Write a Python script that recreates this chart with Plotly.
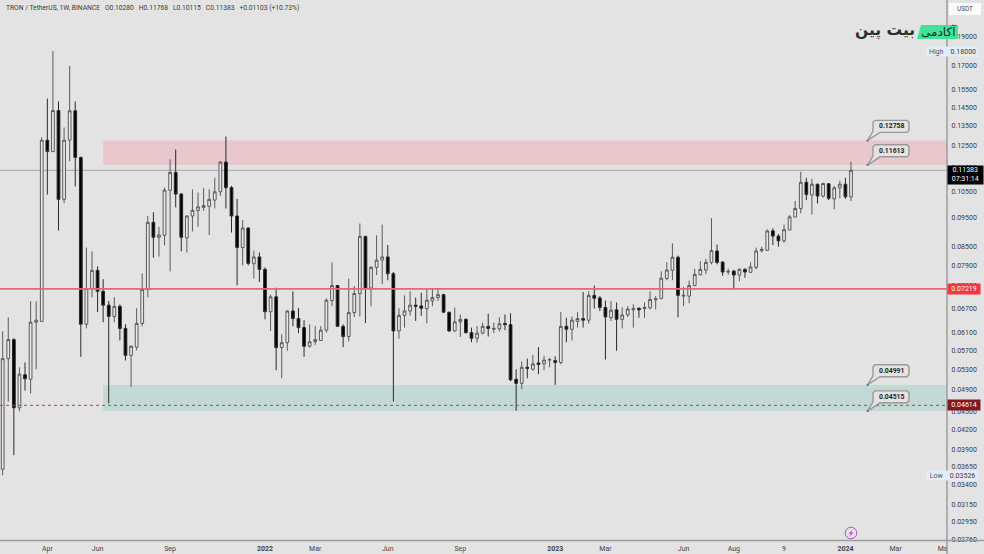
import math
import pandas as pd
import plotly.graph_objects as go

first_week = "2021-02-08"
opens = [.0361,.0552,.0594,.0457,.0519,.0510,.0635,.0637,.1278,.1223,.1432,.1018,.1278,.1431,.1196,.0630,.0723,.0775,.0715,.0678,
.0649,.0675,.0620,.0559,.0577,.0632,.0720,.0932,.0880,.0887,.1054,.1129,.1039,.0878,.0955,.0975,.0987,.0991,.1015,.1048,
.1175,.1065,.0955,.0846,.0912,.0795,.0816,.0778,.0661,.0700,.0576,.0587,.0663,.0644,.0622,.0579,.0589,.0592,.0616,.0690,
.0731,.0625,.0601,.0659,.0709,.0883,.0724,.0784,.0806,.0816,.0765,.0614,.0652,.0663,.0678,.0676,.0669,.0689,.0698,.0706,
.0660,.0614,.0636,.0642,.0610,.0597,.0609,.0625,.0618,.0619,.0632,.0629,.0510,.0502,.0534,.0530,.0543,.0541,.0549,.0548,
.0544,.0625,.0618,.0637,.0644,.0640,.0704,.0697,.0672,.0646,.0666,.0642,.0653,.0666,.0670,.0669,.0671,.0692,.0696,.0751,
.0775,.0815,.0702,.0702,.0731,.0762,.0776,.0799,.0835,.0800,.0770,.0773,.0761,.0778,.0769,.0784,.0836,.0837,.0902,.0884,
.0868,.0905,.0951,.0983,.1087,.1035,.1079,.1031,.1081,.1020,.1064,.1079,.1028]
highs = [.0613,.0647,.0597,.0534,.0544,.0688,.0688,.1292,.1500,.1800,.1483,.1342,.1700,.1483,.1200,.0846,.0834,.0787,.0749,.0689,
.0699,.0680,.0630,.0581,.0670,.0766,.0955,.0969,.0916,.1065,.1187,.1233,.1042,.0958,.1058,.1045,.1064,.1058,.1106,.1179,
.1296,.1072,.1020,.0940,.0914,.0836,.0830,.0784,.0706,.0725,.0606,.0665,.0715,.0671,.0640,.0630,.0626,.0626,.0696,.0799,
.0733,.0630,.0751,.0730,.0928,.0885,.0788,.0887,.0924,.0854,.0770,.0670,.0704,.0715,.0698,.0711,.0723,.0723,.0724,.0708,
.0660,.0672,.0654,.0644,.0622,.0626,.0634,.0656,.0634,.0647,.0654,.0657,.0530,.0546,.0552,.0560,.0577,.0558,.0554,.0557,
.0660,.0646,.0649,.0660,.0713,.0715,.0731,.0702,.0690,.0689,.0685,.0672,.0675,.0680,.0672,.0685,.0715,.0702,.0772,.0800,
.0860,.0820,.0727,.0745,.0780,.0803,.0810,.0947,.0856,.0802,.0780,.0776,.0781,.0781,.0799,.0846,.0849,.0907,.0911,.0891,
.0924,.0958,.1012,.1132,.1106,.1102,.1081,.1085,.1083,.1072,.1094,.1106,.11768]
lows = [.03526,.0468,.0381,.0451,.0488,.0483,.0530,.0637,.1037,.1223,.0903,.1003,.1179,.1070,.0556,.0620,.0699,.0660,.0635,.0465,
.0635,.0592,.0548,.0495,.0570,.0625,.0699,.0814,.0817,.0853,.0772,.0987,.0834,.0830,.0900,.0916,.0974,.0888,.0983,.1032,
.0983,.0896,.0732,.0790,.0790,.0751,.0741,.0642,.0614,.0528,.0512,.0569,.0625,.0609,.0556,.0576,.0582,.0592,.0610,.0675,
.0625,.0577,.0590,.0648,.0649,.0633,.0675,.0761,.0735,.0746,.0468,.0596,.0622,.0651,.0638,.0651,.0632,.0675,.0689,.0658,
.0612,.0612,.0600,.0608,.0588,.0587,.0606,.0601,.0609,.0613,.0616,.0506,.0452,.0491,.0512,.0527,.0520,.0528,.0534,.0499,
.0540,.0588,.0592,.0622,.0622,.0632,.0669,.0663,.0550,.0638,.0569,.0620,.0648,.0622,.0646,.0646,.0667,.0667,.0693,.0746,
.0746,.0647,.0675,.0683,.0729,.0760,.0764,.0793,.0793,.0759,.0762,.0720,.0743,.0753,.0769,.0778,.0830,.0837,.0854,.0849,
.0862,.0905,.0951,.0965,.1015,.0960,.1002,.1025,.1015,.0980,.1022,.1020,.10115]
closes = [.0552,.0594,.0457,.0520,.0511,.0635,.0640,.1278,.1223,.1432,.1018,.1278,.1431,.1196,.0630,.0723,.0775,.0715,.0678,.0649,
.0675,.0620,.0559,.0579,.0632,.0720,.0932,.0880,.0888,.1055,.1129,.1039,.0880,.0955,.0976,.0989,.0994,.1018,.1048,.1175,
.1065,.0955,.0846,.0912,.0796,.0816,.0778,.0661,.0700,.0576,.0587,.0663,.0644,.0622,.0579,.0589,.0594,.0616,.0691,.0731,
.0625,.0601,.0659,.0709,.0883,.0724,.0784,.0806,.0816,.0765,.0614,.0652,.0663,.0678,.0675,.0670,.0691,.0698,.0706,.0660,
.0614,.0636,.0642,.0610,.0597,.0609,.0625,.0620,.0620,.0631,.0629,.0509,.0502,.0534,.0532,.0541,.0540,.0549,.0550,.0544,
.0625,.0618,.0640,.0644,.0640,.0704,.0696,.0672,.0648,.0665,.0642,.0653,.0668,.0669,.0666,.0672,.0693,.0695,.0752,.0776,
.0815,.0704,.0704,.0731,.0763,.0778,.0799,.0836,.0799,.0770,.0772,.0761,.0778,.0770,.0785,.0835,.0840,.0902,.0884,.0868,
.0906,.0952,.0983,.1087,.1037,.1079,.1031,.1082,.1022,.1064,.1079,.1028,.11383]

y_ticks = [.19,.17,.155,.145,.135,.125,.115,.105,.095,.085,.079,.073,.067,.061,.057,.053,.049,.045,.042,.039,.0365,.034,.0315,.0295,.0276]
x_tick_dates = ["2021-04-05","2021-06-07","2021-09-06","2022-01-03","2022-03-07","2022-06-06","2022-09-05",
                "2023-01-02","2023-03-06","2023-06-12","2023-08-14","2023-10-16","2024-01-01","2024-03-04","2024-05-02"]
x_tick_text = ["Apr","Jun","Sep","<b>2022</b>","Mar","Jun","Sep","<b>2023</b>","Mar","Jun","Aug","9","<b>2024</b>","Mar","Ma"]

resistance = (0.11613, 0.12758)
support = (0.04515, 0.04991)
last_price = 0.11383
red_level = 0.07219
dashed_level = 0.04614
high_price = 0.18
low_price = 0.03526
zone_start = "2021-06-14"

BG = "#e3e3e3"
FONT = "Roboto, Arial, sans-serif"
PW, PH = 947, 540
dates = pd.date_range(first_week, periods=len(opens), freq="7D")

def X(px): return px / PW
def Y(py): return 1 - py / PH
def yp(price):
    return 51 + 260.4 * math.log(high_price / price)

fig = go.Figure(go.Candlestick(
    x=dates, open=opens, high=highs, low=lows, close=closes,
    increasing=dict(line=dict(color="#5a5a5a", width=1), fillcolor="#e8e8e8"),
    decreasing=dict(line=dict(color="#2a2a2a", width=1), fillcolor="#000000"),
    whiskerwidth=0, showlegend=False, hoverinfo="skip",
))

shapes = []
annots = []

def note(**kw):
    kw.setdefault("showarrow", False)
    kw.setdefault("xanchor", "center")
    kw.setdefault("yanchor", "middle")
    annots.append(kw)

# zones
shapes.append(dict(type="rect", xref="x", yref="y", x0=zone_start, x1="2024-05-20",
                   y0=resistance[0], y1=resistance[1], fillcolor="#e8c8cd", line_width=0, layer="below"))
shapes.append(dict(type="rect", xref="x", yref="y", x0=zone_start, x1="2024-05-20",
                   y0=support[0], y1=support[1], fillcolor="#c3d9d6", line_width=0, layer="below"))
# levels
shapes.append(dict(type="line", xref="paper", yref="y", x0=0, x1=1, y0=last_price, y1=last_price,
                   line=dict(color="#a6a6a6", width=1), layer="below"))
shapes.append(dict(type="line", xref="paper", yref="y", x0=0, x1=1, y0=red_level, y1=red_level,
                   line=dict(color="#ec6474", width=1.8), layer="above"))
shapes.append(dict(type="line", xref="paper", yref="y", x0=0, x1=1, y0=dashed_level, y1=dashed_level,
                   line=dict(color="#8a5560", width=1, dash="3px,3px"), layer="above"))
# frame lines
shapes.append(dict(type="line", xref="paper", yref="paper", x0=1, x1=1, y0=Y(554), y1=1,
                   line=dict(color="#9c9c9c", width=1.5), layer="above"))
shapes.append(dict(type="line", xref="paper", yref="paper", x0=0, x1=X(984), y0=Y(540.5), y1=Y(540.5),
                   line=dict(color="#9c9c9c", width=1.5), layer="above"))

# callouts
for price in [resistance[1], resistance[0], support[1], support[0]]:
    t = yp(price)
    x0, x1, y0, y1 = 873, 909, t - 20.3, t - 8.3
    r = 2
    pts = [(x0 + r, y0), (x1 - r, y0), (x1, y0 + r), (x1, y1 - r), (x1 - r, y1), (880, y1),
           (867.5, t), (x0, y1 - 1), (x0, y0 + r)]
    path = "M " + " L ".join(f"{X(a):.5f},{Y(b):.5f}" for a, b in pts) + " Z"
    shapes.append(dict(type="path", xref="paper", yref="paper", path=path, fillcolor=BG,
                       line=dict(color="#9a9a9a", width=1.4), layer="above"))
    shapes.append(dict(type="circle", xref="paper", yref="paper", x0=X(866.5), x1=X(868.5), y0=Y(t + 1), y1=Y(t - 1),
                       fillcolor="#666666", line_width=0, layer="above"))
    note(xref="paper", yref="paper", x=X(891), y=Y((y0 + y1) / 2),
         text=f"<b>{price:.5f}</b>", font=dict(family=FONT, size=6.8, color="#222"))

# right-axis tags
def tag(yref, yval, text, bg, width, height):
    note(xref="paper", yref=yref, x=1.0005, y=yval, xanchor="left",
         text=text, bgcolor=bg, width=width, height=height, align="center", borderpad=0,
         font=dict(family=FONT, size=7, color="#ffffff"))
tag("y", math.log10(red_level), "0.07219", "#f23645", 32, 9.5)
tag("y", math.log10(dashed_level), "0.04614", "#801922", 32, 9.5)
tag("paper", Y(174.5), "0.11383<br>07:31:14", "#000000", 34.5, 17.6)

# High / Low pills
for price, label in [(high_price, "High"), (low_price, "Low")]:
    note(xref="paper", yref="y", x=X(979), y=math.log10(price), xanchor="right",
         text=f"<span style='color:#555'>{label}</span>\u2002\u2002{price:.5f}", bgcolor="#e2edf9",
         width=51, height=9, align="center", borderpad=0, font=dict(family=FONT, size=7, color="#3a3a3a"))

# USDT button
shapes.append(dict(type="rect", xref="paper", yref="paper", x0=X(949), x1=X(981), y0=Y(15), y1=Y(3),
                   fillcolor="#fbfbfb", line_width=0, layer="above"))
note(xref="paper", yref="paper", x=X(965), y=Y(9), text="USDT", font=dict(family=FONT, size=6.4, color="#444"))

# logo
pill = [(921, 25), (958, 25), (958, 39), (917, 39)]
shapes.append(dict(type="path", xref="paper", yref="paper",
                   path="M " + " L ".join(f"{X(a):.5f},{Y(b):.5f}" for a, b in pill) + " Z",
                   fillcolor="#3fe596", line_width=0, layer="above"))
note(xref="paper", yref="paper", x=X(938.5), y=Y(32), text="آکادمی",
     font=dict(family="DejaVu Sans", size=12, color="#1d2a25"))
note(xref="paper", yref="paper", x=X(885), y=Y(30.5), text="<b>بیت پین</b>",
     font=dict(family="DejaVu Sans", size=15.5, color="#2c2c34"))

# bolt icon
shapes.append(dict(type="circle", xref="paper", yref="paper", x0=X(845.2), x1=X(856.8), y0=Y(538.8), y1=Y(527.2),
                   line=dict(color="#b44fd8", width=1), layer="above"))
bolt = [(852.5, 529.5), (848.6, 533.8), (850.8, 533.8), (849.6, 536.8), (853.5, 532.5), (851.2, 532.5)]
shapes.append(dict(type="path", xref="paper", yref="paper",
                   path="M " + " L ".join(f"{X(a):.5f},{Y(b):.5f}" for a, b in bolt) + " Z",
                   fillcolor="#b44fd8", line_width=0, layer="above"))

# header
gap = "\u00a0\u00a0\u00a0"
note(xref="paper", yref="paper", x=X(4), y=Y(8), xanchor="left",
     text=gap.join(["TRON / TetherUS, 1W, BINANCE", "O0.10280", "H0.11768", "L0.10115", "C0.11383", "+0.01103 (+10.73%)"]),
     font=dict(family=FONT, size=6.7, color="#3a3a3a"))

fig.update_layout(
    width=984, height=554,
    margin=dict(l=0, r=37, t=0, b=14, autoexpand=False),
    paper_bgcolor=BG, plot_bgcolor=BG,
    shapes=shapes, annotations=annots,
    showlegend=False,
    xaxis=dict(type="date", range=["2021-02-04 15:00", "2024-05-07 10:00"], rangeslider=dict(visible=False),
               showgrid=False, zeroline=False, tickmode="array", tickvals=x_tick_dates, ticktext=x_tick_text,
               ticks="outside", ticklen=2, tickcolor=BG, tickangle=0,
               tickfont=dict(family=FONT, size=7, color="#444")),
    yaxis=dict(type="log", side="right", range=[math.log10(0.0275), math.log10(0.2190)],
               showgrid=False, zeroline=False, tickmode="array", tickvals=y_ticks,
               ticktext=[f"{v:.5f}" for v in y_ticks], ticks="outside", ticklen=2, tickcolor=BG,
               tickfont=dict(family=FONT, size=7, color="#3a3a3a")),
)
fig.write_html("out.html", config=dict(displayModeBar=False),
               post_script="document.body.style.margin='0';document.body.style.overflow='hidden';document.body.style.background='#e3e3e3';")
